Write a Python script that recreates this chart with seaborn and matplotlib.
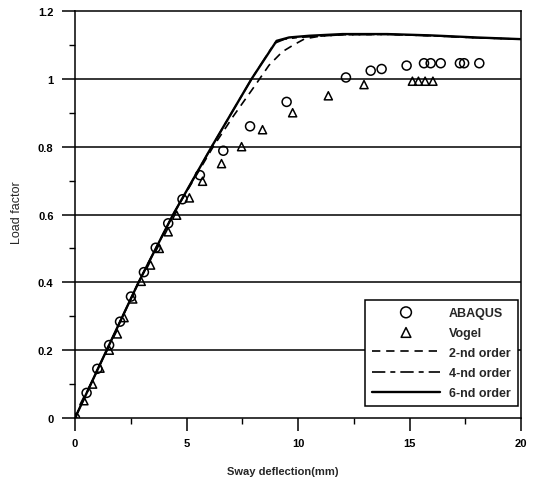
import matplotlib
matplotlib.use("Agg")
import matplotlib.pyplot as plt
import seaborn as sns
import numpy as np

# ---- data ----
abaqus_x = [0.0, 0.52, 1.0, 1.53, 2.02, 2.51, 3.09, 3.62, 4.18, 4.82, 5.6, 6.65, 7.85, 9.49,
            12.15, 13.26, 13.75, 14.87, 15.65, 15.95, 16.4, 17.26, 17.45, 18.13]
abaqus_y = [0.0, 0.074, 0.145, 0.215, 0.284, 0.358, 0.43, 0.502, 0.574, 0.645, 0.716, 0.788, 0.86, 0.932,
            1.004, 1.024, 1.029, 1.039, 1.046, 1.046, 1.046, 1.046, 1.046, 1.046]
vogel_x = [0.0, 0.40, 0.79, 1.12, 1.54, 1.9, 2.2, 2.59, 2.97, 3.39, 3.78, 4.18, 4.56, 5.13, 5.72,
           6.57, 7.47, 8.41, 9.76, 11.36, 12.96, 15.13, 15.4, 15.7, 16.05]
vogel_y = [0.0, 0.051, 0.1, 0.147, 0.2, 0.248, 0.296, 0.351, 0.403, 0.451, 0.5, 0.549, 0.598, 0.649, 0.698,
           0.75, 0.80, 0.85, 0.90, 0.95, 0.983, 0.993, 0.993, 0.993, 0.993]
order2_x = [0.0, 1.42, 2.85, 4.4, 6.2, 7.1, 8.07, 8.7, 9.3, 9.8, 10.3, 11.0, 12.0, 14.0, 16.0, 18.0, 20.0]
order2_y = [0.0, 0.2, 0.4, 0.6, 0.8, 0.89, 0.98, 1.04, 1.08, 1.10, 1.118, 1.126, 1.13, 1.131, 1.127, 1.121, 1.117]
order4_x = [0.0, 1.42, 2.85, 4.4, 6.13, 7.92, 8.95, 9.4, 10.0, 12.0, 14.0, 16.0, 18.0, 20.0]
order4_y = [0.0, 0.2, 0.4, 0.6, 0.8, 1.0, 1.105, 1.117, 1.122, 1.13, 1.131, 1.127, 1.121, 1.117]
order6_x = [0.0, 1.42, 2.85, 4.4, 6.13, 7.92, 9.04, 9.6, 10.5, 12.0, 14.0, 16.0, 18.0, 20.0]
order6_y = [0.0, 0.2, 0.4, 0.6, 0.8, 1.0, 1.112, 1.122, 1.127, 1.132, 1.132, 1.128, 1.122, 1.117]

labels = ["ABAQUS", "Vogel", "2-nd order", "4-nd order", "6-nd order"]
x_ticks = [0, 5, 10, 15, 20]
y_ticks = [0, 0.2, 0.4, 0.6, 0.8, 1.0, 1.2]
y_ticklabels = ["0", "0.2", "0.4", "0.6", "0.8", "1", "1.2"]

sns.set_style("white")
plt.rcParams['font.family'] = ['Liberation Sans', 'DejaVu Sans']
plt.rcParams['font.weight'] = 'bold'

fig = plt.figure(figsize=(5.34, 4.81), dpi=100)
ax = fig.add_axes([75/534, 1 - 419/481, 446/534, 407/481])

for yv in y_ticks[1:-1]:
    ax.axhline(yv, color='black', lw=1.1, zorder=1)

sns.lineplot(x=order2_x, y=order2_y, ax=ax, color='black', lw=1.2, sort=False,
             estimator=None, label=labels[2], linestyle=(0, (5, 3.5)))
sns.lineplot(x=order4_x, y=order4_y, ax=ax, color='black', lw=1.2, sort=False,
             estimator=None, label=labels[3], linestyle=(0, (8, 3, 3, 3)))
sns.lineplot(x=order6_x, y=order6_y, ax=ax, color='black', lw=1.7, sort=False,
             estimator=None, label=labels[4])
sns.scatterplot(x=abaqus_x, y=abaqus_y, ax=ax, marker='o', s=42, facecolor='none',
                edgecolor='black', linewidth=1.1, label=labels[0], zorder=3)
sns.scatterplot(x=vogel_x, y=vogel_y, ax=ax, marker='^', s=34, facecolor='none',
                edgecolor='black', linewidth=1.1, label=labels[1], zorder=3)

ax.set_xlim(0, 20)
ax.set_ylim(0, 1.2)
ax.set_xticks(x_ticks)
ax.set_xticks([2.5, 7.5, 12.5, 17.5], minor=True)
ax.set_yticks(y_ticks)
ax.set_yticklabels(y_ticklabels)
ax.set_yticks([0.1, 0.3, 0.5, 0.7, 0.9, 1.1], minor=True)
ax.tick_params(axis='both', which='major', direction='out', length=9.4, width=1.1,
               color='black', labelsize=8, labelcolor='black')
ax.tick_params(axis='both', which='minor', direction='out', length=4.3, width=1.0, color='black')
ax.tick_params(axis='x', which='major', pad=5)
ax.tick_params(axis='y', which='major', pad=6)
ax.tick_params(axis='both', which='both', bottom=True, left=True, top=False, right=False)

for sp in ax.spines.values():
    sp.set_color('black')
    sp.set_linewidth(1.1)
    sp.set_visible(True)

ax.set_xlabel("Sway deflection(mm)", fontsize=8, fontweight='bold')
ax.xaxis.set_label_coords((283 - 75) / 446, (419 - 467) / 407)
ax.set_ylabel("Load factor", fontsize=9, fontweight='normal')
ax.yaxis.set_label_coords((17 - 75) / 446, (419 - 213) / 407)
ax.yaxis.label.set_va('center')

handles, labs = ax.get_legend_handles_labels()
hmap = dict(zip(labs, handles))
leg = ax.legend([hmap[l] for l in labels], labels, loc='lower right',
                bbox_to_anchor=(0.993, 0.0295), borderaxespad=0, fontsize=9, frameon=True,
                fancybox=False, edgecolor='black', framealpha=1, handlelength=5.5,
                handletextpad=0.7, labelspacing=0.65, borderpad=0.55, scatterpoints=1,
                markerscale=1.2)
leg.get_frame().set_linewidth(1.1)

fig.savefig("out.png", dpi=100)
